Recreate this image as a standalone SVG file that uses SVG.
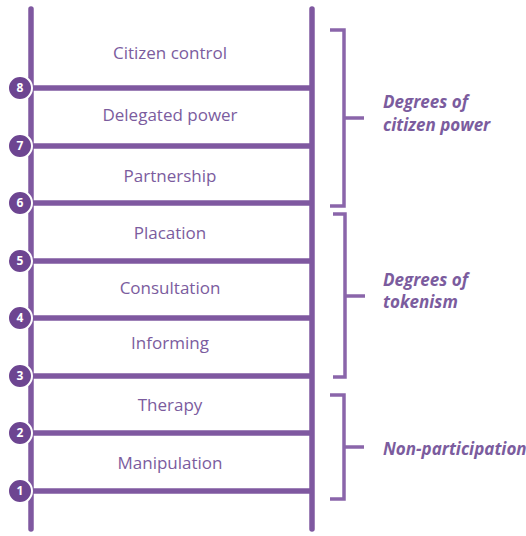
<svg xmlns="http://www.w3.org/2000/svg" width="526" height="536" viewBox="0 0 526 536">
<style>
.rail{stroke:#7f58a0;stroke-width:5.5;stroke-linecap:round;fill:none}
.rung{stroke:#7f58a0;stroke-width:5.5;fill:none}
.br{stroke:#8a65aa;stroke-width:3.5;fill:none}
.lbl{font-family:"Open Sans",sans-serif;font-size:17px;font-weight:500;fill:#7b5c9e;text-anchor:middle}
.grp{font-family:"Open Sans",sans-serif;font-size:17px;font-weight:700;font-style:italic;fill:#7b5c9e}
.num circle{fill:#6d4591;stroke:#ffffff;stroke-width:2}
.num text{font-family:"Open Sans",sans-serif;font-size:12px;font-weight:700;fill:#ffffff;text-anchor:middle}
</style>
<rect width="526" height="536" fill="#ffffff"/>
<g id="connectors">
<line class="rail" x1="31" y1="9" x2="31" y2="529"/>
<line class="rail" x1="312" y1="9" x2="312" y2="529"/>
<line class="rung" x1="31" y1="88" x2="312" y2="88"/>
<line class="rung" x1="31" y1="146" x2="312" y2="146"/>
<line class="rung" x1="31" y1="203" x2="312" y2="203"/>
<line class="rung" x1="31" y1="261" x2="312" y2="261"/>
<line class="rung" x1="31" y1="318" x2="312" y2="318"/>
<line class="rung" x1="31" y1="376" x2="312" y2="376"/>
<line class="rung" x1="31" y1="433" x2="312" y2="433"/>
<line class="rung" x1="31" y1="491" x2="312" y2="491"/>
</g>
<g id="labels">
<text class="lbl" x="170" y="59">Citizen control</text>
<text class="lbl" x="170" y="121">Delegated power</text>
<text class="lbl" x="170" y="182">Partnership</text>
<text class="lbl" x="170" y="239">Placation</text>
<text class="lbl" x="170" y="294">Consultation</text>
<text class="lbl" x="170" y="349">Informing</text>
<text class="lbl" x="170" y="411">Therapy</text>
<text class="lbl" x="170" y="469">Manipulation</text>
</g>
<g id="numbers" class="num">
<g id="n8"><circle cx="20" cy="88" r="12"/><text x="20" y="92">8</text></g>
<g id="n7"><circle cx="20" cy="146" r="12"/><text x="20" y="150">7</text></g>
<g id="n6"><circle cx="20" cy="203" r="12"/><text x="20" y="207">6</text></g>
<g id="n5"><circle cx="20" cy="261" r="12"/><text x="20" y="265">5</text></g>
<g id="n4"><circle cx="20" cy="318" r="12"/><text x="20" y="322">4</text></g>
<g id="n3"><circle cx="20" cy="376" r="12"/><text x="20" y="380">3</text></g>
<g id="n2"><circle cx="20" cy="433" r="12"/><text x="20" y="437">2</text></g>
<g id="n1"><circle cx="20" cy="491" r="12"/><text x="20" y="495">1</text></g>
</g>
<g id="bracket-power">
<path class="br" d="M330 30 H344 V206 H330 M344 118 H364"/>
<text class="grp" x="383" y="108">Degrees of</text>
<text class="grp" x="383" y="131">citizen power</text>
</g>
<g id="bracket-tokenism">
<path class="br" d="M333 214 H345 V377 H333 M345 296 H365"/>
<text class="grp" x="383" y="286">Degrees of</text>
<text class="grp" x="383" y="308">tokenism</text>
</g>
<g id="bracket-non">
<path class="br" d="M330 395 H344 V499 H330 M344 447 H364"/>
<text class="grp" x="383" y="455">Non-participation</text>
</g>
</svg>
